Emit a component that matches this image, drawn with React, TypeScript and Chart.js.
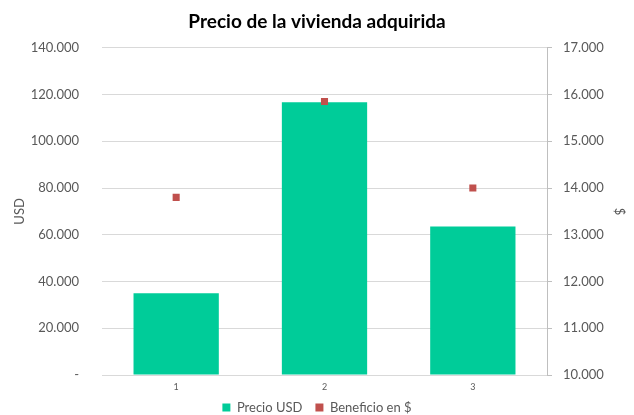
import React, { useEffect, useRef } from "react";
import { Chart, registerables } from "chart.js";

Chart.register(...registerables);

const categories = ["1", "2", "3"];
const precioUSD = [35000, 116700, 63500];
const beneficio = [13800, 15850, 14000];
const leftTicks = { min: 0, max: 140000, step: 20000 };
const rightTicks = { min: 10000, max: 17000, step: 1000 };

const fmt = (v: number) =>
  v === 0 ? "-" : String(Math.round(v)).replace(/\B(?=(\d{3})+(?!\d))/g, ".");

const FONT = "Lato, 'Open Sans', sans-serif";

// let the x-axis labels overflow the tight axis box (avoid clipping)
const unclipX = {
  id: "unclipX",
  afterLayout(chart: any) {
    const x = chart.scales.x;
    if (x) x.bottom = x.top + 26;
  },
};

export default function App() {
  const ref = useRef<HTMLCanvasElement | null>(null);
  useEffect(() => {
    if (!ref.current) return;
    const chart = new Chart(ref.current, {
      type: "bar",
      data: {
        labels: categories,
        datasets: [
          {
            type: "bar",
            label: "Precio USD",
            data: precioUSD,
            backgroundColor: "#00CC99",
            borderColor: "#00CC99",
            borderWidth: 0,
            yAxisID: "y",
            barPercentage: 0.575,
            categoryPercentage: 1,
            order: 2,
          },
          {
            type: "line",
            label: "Beneficio en $",
            data: beneficio,
            showLine: false,
            pointStyle: "rect",
            pointRadius: 5,
            backgroundColor: "#C0504D",
            borderColor: "#C0504D",
            borderWidth: 0,
            yAxisID: "y1",
            order: 1,
          },
        ],
      },
      plugins: [unclipX],
      options: {
        animation: false,
        responsive: false,
        layout: { padding: { left: 0, right: 0, top: 2, bottom: 0 } },
        plugins: {
          title: {
            display: true,
            text: "Precio de la vivienda adquirida",
            color: "#000000",
            font: { family: FONT, size: 19, weight: "bold" },
            padding: { top: 8, bottom: 15 },
          },
          legend: {
            position: "bottom",
            maxHeight: 27,
            labels: {
              usePointStyle: true,
              pointStyle: "rect",
              boxWidth: 8,
              boxHeight: 8,
              color: "#595959",
              font: { family: FONT, size: 13 },
              padding: 13,
              sort: (a: any, b: any) => a.datasetIndex - b.datasetIndex,
            },
          },
          tooltip: { enabled: false },
        },
        scales: {
          x: {
            grid: { display: false, drawTicks: false },
            border: { display: true, color: "#D9D9D9" },
            ticks: { color: "#595959", font: { family: FONT, size: 9 }, padding: 7 },
            afterFit: (s: any) => {
              s.height = 13;
            },
          },
          y: {
            position: "left",
            min: leftTicks.min,
            max: leftTicks.max,
            ticks: {
              stepSize: leftTicks.step,
              color: "#595959",
              font: { family: FONT, size: 13 },
              padding: 23,
              callback: (v: any) => fmt(Number(v)),
            },
            grid: { color: "#D9D9D9", drawTicks: false },
            border: { display: false },
            title: {
              display: true,
              text: "USD",
              color: "#595959",
              font: { family: FONT, size: 13 },
              padding: { top: 12, bottom: 4 },
            },
            afterFit: (s: any) => {
              s.width = 102;
            },
          },
          y1: {
            position: "right",
            min: rightTicks.min,
            max: rightTicks.max,
            ticks: {
              stepSize: rightTicks.step,
              color: "#595959",
              font: { family: FONT, size: 13 },
              padding: 11,
              callback: (v: any) => fmt(Number(v)),
            },
            grid: { drawOnChartArea: false, color: "#BFBFBF", tickLength: 5 },
            border: { display: true, color: "#BFBFBF" },
            title: {
              display: true,
              text: "$",
              color: "#595959",
              font: { family: FONT, size: 13 },
              padding: { top: 7, bottom: 0 },
            },
            afterFit: (s: any) => {
              s.width = 87;
            },
          },
        },
      } as any,
    });
    return () => chart.destroy();
  }, []);
  return (
    <div style={{ position: "fixed", left: 0, top: 0, width: 634, height: 415, background: "#fff" }}>
      <canvas ref={ref} width={634} height={415} />
    </div>
  );
}
